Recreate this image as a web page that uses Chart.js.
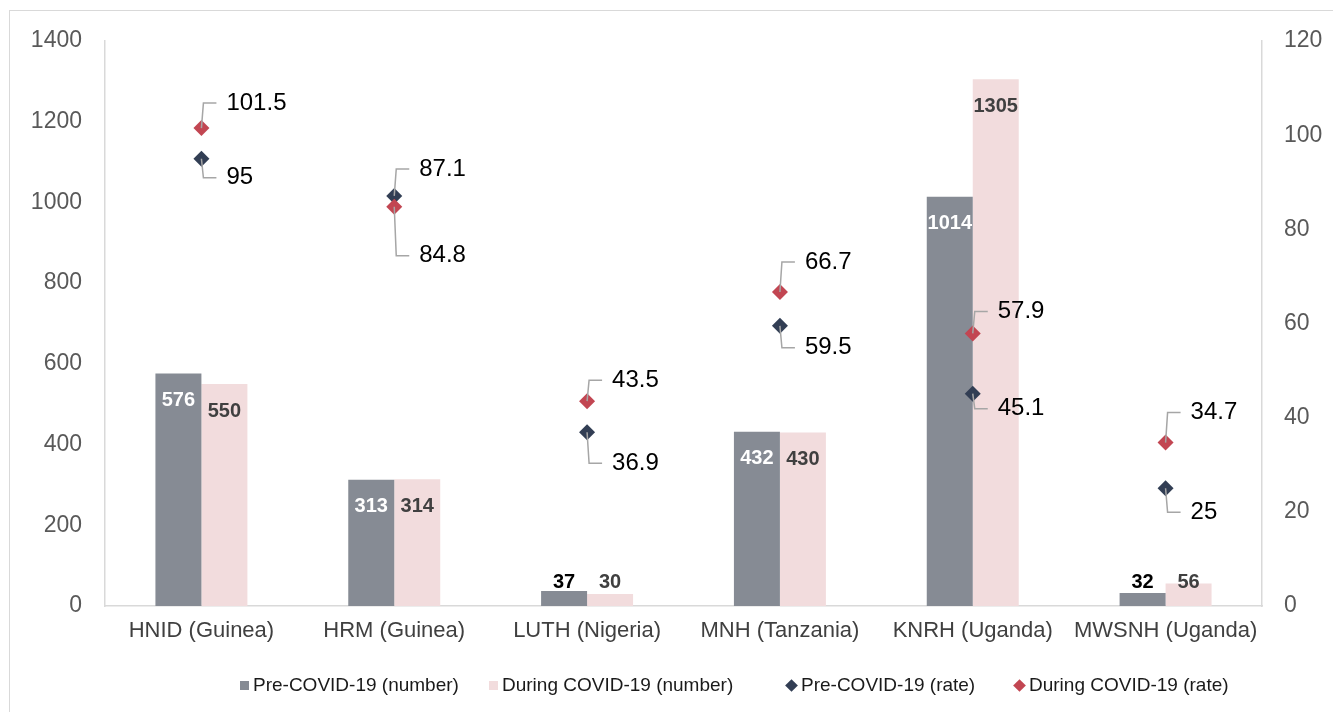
<!DOCTYPE html>
<html>
<head>
<meta charset="utf-8">
<script src="https://cdn.jsdelivr.net/npm/chart.js@4"></script>
<style>
    body { margin: 0; background: #fff; font-family: "Liberation Sans", Arial, sans-serif; }
    #wrap { position: relative; width: 1333px; height: 712px; }
    #frame { position: absolute; left: 9px; top: 10px; right: 0; bottom: 0; border-top: 1.5px solid #d9d9d9; border-left: 1.5px solid #d9d9d9; }
    #legend { position: absolute; left: 0; top: 673px; width: 1333px; height: 24px; }
    .item { position: absolute; top: 0; display: flex; align-items: center; height: 24px; font-size: 19px; color: #1a1a1a; white-space: nowrap; }
    .box { width: 9px; height: 9px; margin-right: 4px; }
    .dia { width: 9px; height: 9px; margin: 0 5px 0 2px; transform: rotate(45deg); }
</style>
</head>
<body>
<div id="wrap">
    <div id="frame"></div>
    <canvas id="chart"></canvas>
    <div id="legend"></div>
</div>
<script>
const categories = ['HNID (Guinea)', 'HRM (Guinea)', 'LUTH (Nigeria)', 'MNH (Tanzania)', 'KNRH (Uganda)', 'MWSNH (Uganda)'];
const preNumber = [576, 313, 37, 432, 1014, 32];
const duringNumber = [550, 314, 30, 430, 1305, 56];
const preRate = [95, 87.1, 36.9, 59.5, 45.1, 25];
const duringRate = [101.5, 84.8, 43.5, 66.7, 57.9, 34.7];
const countTicks = [0, 200, 400, 600, 800, 1000, 1200, 1400];
const rateTicks = [0, 20, 40, 60, 80, 100, 120];

// how far above (-) / below (+) each rate label sits from its marker
const preRateShift = [19, -27, 31, 22, 15, 24];
const duringRateShift = [-25, 49, -21, -30, -22, -30];

const FONT = '"Liberation Sans", Arial, sans-serif';
const GRAY = '#868b94';
const PINK = '#f2dcdd';
const NAVY = '#323e54';
const RED = '#c24652';

// labels on bars and rate markers
const labelPlugin = {
    id: 'labels',
    afterDatasetsDraw(chart) {
        const ctx = chart.ctx;
        ctx.save();
        // bar values
        [0, 1].forEach(di => {
            const meta = chart.getDatasetMeta(di);
            ctx.font = 'bold 20px ' + FONT;
            ctx.textAlign = 'center';
            ctx.textBaseline = 'middle';
            meta.data.forEach((bar, i) => {
                const inside = bar.y + 26 < bar.base - 24;
                const y = Math.min(bar.y + 27, bar.base - 24);
                if (di === 0) ctx.fillStyle = inside ? '#ffffff' : '#000000';
                else ctx.fillStyle = '#404040';
                ctx.fillText(chart.data.datasets[di].data[i], bar.x, y);
            });
        });
        // rate values with leader lines
        const shifts = { 2: preRateShift, 3: duringRateShift };
        [2, 3].forEach(di => {
            const meta = chart.getDatasetMeta(di);
            meta.data.forEach((pt, i) => {
                const dy = shifts[di][i];
                ctx.strokeStyle = '#a6a6a6';
                ctx.lineWidth = 1.5;
                ctx.beginPath();
                ctx.moveTo(pt.x, pt.y);
                ctx.lineTo(pt.x + 2, pt.y + dy);
                ctx.lineTo(pt.x + 15, pt.y + dy);
                ctx.stroke();
                ctx.fillStyle = '#000000';
                ctx.font = '24px ' + FONT;
                ctx.textAlign = 'left';
                ctx.textBaseline = 'middle';
                ctx.fillText(chart.data.datasets[di].data[i], pt.x + 25, pt.y + dy);
            });
        });
        ctx.restore();
    }
};

const noPadY = scale => { scale.paddingTop = 0; scale.paddingBottom = 0; };

const chart = new Chart(document.getElementById('chart'), {
    type: 'bar',
    data: {
        labels: categories,
        datasets: [
            { label: 'Pre-COVID-19 (number)', data: preNumber, backgroundColor: GRAY, yAxisID: 'y', order: 2 },
            { label: 'During COVID-19 (number)', data: duringNumber, backgroundColor: PINK, yAxisID: 'y', order: 2 },
            { type: 'line', label: 'Pre-COVID-19 (rate)', data: preRate, showLine: false, yAxisID: 'y1',
              pointStyle: 'rectRot', pointRadius: 8, pointBackgroundColor: NAVY, pointBorderWidth: 0, order: 1 },
            { type: 'line', label: 'During COVID-19 (rate)', data: duringRate, showLine: false, yAxisID: 'y1',
              pointStyle: 'rectRot', pointRadius: 8, pointBackgroundColor: RED, pointBorderWidth: 0, order: 0 }
        ]
    },
    options: {
        responsive: true,
        maintainAspectRatio: false,
        animation: false,
        layout: { padding: { top: 41, left: 0, right: 0, bottom: 0 } },
        datasets: { bar: { categoryPercentage: 0.477, barPercentage: 1 } },
        plugins: { legend: { display: false }, tooltip: { enabled: false } },
        scales: {
            x: {
                grid: { display: false, drawTicks: false },
                border: { display: true, color: '#d9d9d9', width: 1.5 },
                ticks: { color: '#404040', font: { family: FONT, size: 22 }, padding: 12, maxRotation: 0 },
                afterFit: s => { s.height = 106; s.paddingLeft = 0; s.paddingRight = 0; }
            },
            y: {
                position: 'left',
                min: countTicks[0], max: countTicks[countTicks.length - 1],
                afterBuildTicks: s => { s.ticks = countTicks.map(v => ({ value: v })); },
                grid: { display: false, drawTicks: false },
                border: { display: true, color: '#d9d9d9', width: 1.5 },
                ticks: { color: '#595959', font: { family: FONT, size: 23 }, padding: 23, callback: v => String(v) },
                afterFit: s => { s.width = 105; noPadY(s); }
            },
            y1: {
                position: 'right',
                min: rateTicks[0], max: rateTicks[rateTicks.length - 1],
                afterBuildTicks: s => { s.ticks = rateTicks.map(v => ({ value: v })); },
                grid: { display: false, drawTicks: false },
                border: { display: true, color: '#d9d9d9', width: 1.5 },
                ticks: { color: '#595959', font: { family: FONT, size: 23 }, padding: 22, callback: v => String(v) },
                afterFit: s => { s.width = 71; noPadY(s); }
            }
        }
    },
    plugins: [labelPlugin]
});

// legend drawn as html so the items can sit where the original has them
const legendLeft = [240, 489, 785, 1013];
const legend = document.getElementById('legend');
chart.data.datasets.forEach((ds, i) => {
    const item = document.createElement('div');
    item.className = 'item';
    item.style.left = legendLeft[i] + 'px';
    const mark = document.createElement('span');
    mark.className = ds.type === 'line' ? 'dia' : 'box';
    mark.style.background = ds.type === 'line' ? ds.pointBackgroundColor : ds.backgroundColor;
    item.appendChild(mark);
    const text = document.createElement('span');
    text.textContent = ds.label;
    item.appendChild(text);
    legend.appendChild(item);
});
</script>
</body>
</html>
